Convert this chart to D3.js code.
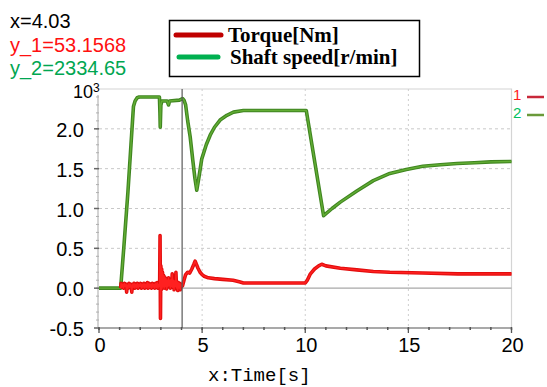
<!DOCTYPE html>
<html>
<head>
<meta charset="utf-8">
<script src="https://cdn.jsdelivr.net/npm/d3@7"></script>
<style>
  html, body { margin: 0; padding: 0; background: #fff; }
  svg { display: block; }
</style>
</head>
<body>
<svg id="chart" width="547" height="387"></svg>
<script>
// Cursor readout
const cursorT = 4.03;
const cursorTorque = "53.1568";
const cursorSpeed = "2334.65";

// Axis ticks (values shown in units of 10^3)
const xTicks = [0, 5, 10, 15, 20];
const yTicks = [-0.5, 0.0, 0.5, 1.0, 1.5, 2.0];
const yTickLabels = ["-0.5", "0.0", "0.5", "1.0", "1.5", "2.0"];

// Series names
const seriesNames = ["Torque[Nm]", "Shaft speed[r/min]"];

// Shaft speed [10^3 r/min] vs time [s]
const speedT = [0, 1.05, 1.2, 1.4, 1.55, 1.67, 1.75, 1.85, 1.95, 2.93, 2.955, 2.97, 3.0, 3.05, 3.3, 3.37, 3.42, 3.9, 4.05, 4.12, 4.2, 4.3, 4.42, 4.55, 4.65, 4.74, 4.85, 4.98, 5.2, 5.39, 5.6, 5.87, 6.2, 6.52, 7.0, 10.05, 10.89, 11.3, 11.7, 12.5, 13.3, 14.1, 14.9, 15.7, 16.55, 17.36, 18.2, 19.0, 20.0];
const speedV = [0, 0, 0.5, 1.2, 1.8, 2.28, 2.35, 2.39, 2.40, 2.40, 2.2, 2.02, 2.3, 2.35, 2.35, 2.3, 2.35, 2.36, 2.38, 2.36, 2.3, 2.1, 1.9, 1.6, 1.38, 1.23, 1.4, 1.62, 1.8, 1.92, 2.02, 2.11, 2.17, 2.21, 2.23, 2.23, 0.91, 1.0, 1.08, 1.22, 1.35, 1.44, 1.49, 1.53, 1.55, 1.565, 1.575, 1.585, 1.59];

// Torque (same axis) vs time [s]
const torqueT = [1.05, 1.07, 1.11, 1.15, 1.19, 1.23, 1.27, 1.31, 1.34, 1.37, 1.41, 1.45, 1.49, 1.53, 1.57, 1.59, 1.62, 1.66, 1.70, 1.74, 1.78, 1.82, 1.86, 1.90, 1.94, 1.98, 2.02, 2.06, 2.10, 2.14, 2.18, 2.22, 2.26, 2.30, 2.34, 2.38, 2.42, 2.46, 2.50, 2.54, 2.58, 2.62, 2.66, 2.70, 2.74, 2.78, 2.82, 2.86, 2.90, 2.94,
  2.96, 2.98, 3.00, 3.02, 3.04, 3.06, 3.08, 3.10, 3.13, 3.16, 3.19, 3.22, 3.25, 3.28, 3.31, 3.34, 3.37, 3.40, 3.43, 3.46, 3.49, 3.52, 3.55, 3.58, 3.61, 3.64, 3.67, 3.70, 3.73, 3.76, 3.79, 3.82, 3.85, 3.88, 3.91, 3.94, 3.97, 4.00, 4.05,
  4.12, 4.2, 4.3, 4.4, 4.5, 4.6, 4.66, 4.72, 4.8, 4.9, 5.0, 5.1, 5.3, 5.6, 6.0, 6.5, 6.8, 7.0, 8.0, 10.0, 10.1, 10.25, 10.45, 10.65, 10.8, 11.0, 11.7, 12.5, 13.3, 14.1, 15.7, 17.4, 20.0];
const torqueV = [0.0, 0.06, 0.01, 0.05, 0.0, 0.06, 0.02, 0.05, -0.05, 0.04, 0.0, 0.06, 0.01, 0.05, 0.0, -0.05, 0.05, 0.01, 0.06, 0.0, 0.05, 0.01, 0.06, 0.0, 0.05, 0.02, 0.06, 0.0, 0.05, 0.01, 0.06, 0.0, 0.05, 0.01, 0.07, 0.0, 0.06, 0.01, 0.05, 0.0, 0.06, 0.01, 0.05, 0.0, 0.06, 0.01, 0.07, 0.0, 0.05, 0.02,
  0.66, -0.38, 0.28, -0.02, 0.24, 0.0, 0.2, 0.02, 0.16, 0.0, 0.14, 0.02, 0.12, -0.01, 0.1, 0.02, 0.13, 0.03, 0.1, 0.0, 0.11, 0.02, 0.18, 0.01, 0.1, -0.02, 0.09, 0.02, 0.2, 0.0, 0.08, -0.03, 0.07, 0.0, 0.06, -0.02, 0.05, 0.02, 0.03,
  0.1, 0.17, 0.2, 0.19, 0.24, 0.3, 0.34, 0.3, 0.25, 0.2, 0.17, 0.15, 0.13, 0.12, 0.11, 0.1, 0.08, 0.065, 0.065, 0.065, 0.1, 0.18, 0.24, 0.28, 0.3, 0.28, 0.25, 0.23, 0.21, 0.2, 0.19, 0.18, 0.18];

const svg = d3.select("#chart");
const plot = { left: 99, right: 511.5, top: 89, bottom: 328 };

const x = d3.scaleLinear().domain([0, 20]).range([plot.left, plot.right]);
const y = d3.scaleLinear().domain([-0.5, 2.5]).range([plot.bottom, plot.top]);

const sans = "'Liberation Sans', Arial, sans-serif";

// Plot frame (top/right)
svg.append("path")
  .attr("d", `M${plot.left},${plot.top}H${plot.right}V${plot.bottom}`)
  .attr("fill", "none").attr("stroke", "#d4d4d4").attr("stroke-width", 1.2);

// Horizontal grid
svg.append("g").selectAll("line")
  .data(yTicks.filter(v => v > 0))
  .join("line")
  .attr("x1", plot.left).attr("x2", plot.right)
  .attr("y1", d => y(d)).attr("y2", d => y(d))
  .attr("stroke", "#c8c8c8").attr("stroke-width", 1)
  .attr("stroke-dasharray", "3,3");

// Zero line
svg.append("line")
  .attr("x1", plot.left).attr("x2", plot.right)
  .attr("y1", y(0)).attr("y2", y(0))
  .attr("stroke", "#a8a8a8").attr("stroke-width", 1.2);

// Vertical grid
svg.append("g").selectAll("line")
  .data(xTicks.filter(v => v > 0 && v < 20))
  .join("line")
  .attr("x1", d => x(d)).attr("x2", d => x(d))
  .attr("y1", plot.top).attr("y2", plot.bottom)
  .attr("stroke", "#cfcfcf").attr("stroke-width", 1)
  .attr("stroke-dasharray", "2,3");

// Left axis line with minor ticks
svg.append("line")
  .attr("x1", plot.left - 1).attr("x2", plot.left - 1)
  .attr("y1", plot.top + 6).attr("y2", plot.bottom)
  .attr("stroke", "#c4c4c4").attr("stroke-width", 1.5);
svg.append("g").selectAll("line")
  .data(d3.range(-5, 25).map(i => i / 10))
  .join("line")
  .attr("x1", plot.left - 3).attr("x2", plot.left)
  .attr("y1", d => y(d)).attr("y2", d => y(d))
  .attr("stroke", "#b0b0b0").attr("stroke-width", 1);
svg.append("g").selectAll("line")
  .data(yTicks)
  .join("line")
  .attr("x1", plot.left - 5).attr("x2", plot.left)
  .attr("y1", d => y(d)).attr("y2", d => y(d))
  .attr("stroke", "#666").attr("stroke-width", 1.5);

// Bottom axis with ticks
svg.append("line")
  .attr("x1", plot.left - 4).attr("x2", plot.right)
  .attr("y1", plot.bottom).attr("y2", plot.bottom)
  .attr("stroke", "#8c8c8c").attr("stroke-width", 1.5);
svg.append("g").selectAll("line")
  .data(d3.range(0, 21))
  .join("line")
  .attr("x1", d => x(d)).attr("x2", d => x(d))
  .attr("y1", plot.bottom - 1).attr("y2", plot.bottom + 2)
  .attr("stroke", "#555").attr("stroke-width", 1.5);
svg.append("g").selectAll("line")
  .data(xTicks)
  .join("line")
  .attr("x1", d => x(d)).attr("x2", d => x(d))
  .attr("y1", plot.bottom).attr("y2", plot.bottom + 5)
  .attr("stroke", "#555").attr("stroke-width", 1.3);

// Tick labels
svg.append("g").selectAll("text")
  .data(yTicks)
  .join("text")
  .attr("x", 84).attr("y", d => y(d) + 8)
  .attr("text-anchor", "end")
  .attr("font-family", sans).attr("font-size", 20).attr("fill", "#000")
  .text((d, i) => yTickLabels[i]);

svg.append("g").selectAll("text")
  .data(xTicks)
  .join("text")
  .attr("x", d => x(d) + 1).attr("y", 352)
  .attr("text-anchor", "middle")
  .attr("font-family", sans).attr("font-size", 20).attr("fill", "#000")
  .text(d => d);

// Scale exponent
const expo = svg.append("text").attr("x", 73).attr("y", 98)
  .attr("font-family", sans).attr("font-size", 18).attr("fill", "#000");
expo.append("tspan").text("10");
expo.append("tspan").attr("font-size", 12).attr("dy", -6).text("3");

// X axis title
svg.append("text")
  .attr("x", 208).attr("y", 381)
  .attr("font-family", "'Liberation Mono', 'DejaVu Sans Mono', monospace")
  .attr("font-size", 19).attr("fill", "#000")
  .text("x:Time[s]");

// Series lines
const lineGen = d3.line().x(d => x(d[0])).y(d => y(d[1]));
const speedData = speedT.map((t, i) => [t, speedV[i]]);
const torqueData = torqueT.map((t, i) => [t, torqueV[i]]);

svg.append("path").datum(speedData).attr("d", lineGen)
  .attr("fill", "none").attr("stroke", "#3f8520").attr("stroke-width", 3.6)
  .attr("stroke-linejoin", "round");
svg.append("path").datum(speedData).attr("d", lineGen)
  .attr("fill", "none").attr("stroke", "#62ad34").attr("stroke-width", 1.4)
  .attr("stroke-linejoin", "round");

svg.append("path").datum(torqueData).attr("d", lineGen)
  .attr("fill", "none").attr("stroke", "#e20d0d").attr("stroke-width", 3.6)
  .attr("stroke-linejoin", "round");
svg.append("path").datum(torqueData).attr("d", lineGen)
  .attr("fill", "none").attr("stroke", "#ff2020").attr("stroke-width", 1.4)
  .attr("stroke-linejoin", "round");

// Cursor line
svg.append("line")
  .attr("x1", x(cursorT)).attr("x2", x(cursorT))
  .attr("y1", plot.top).attr("y2", plot.bottom)
  .attr("stroke", "#5a5a5a").attr("stroke-width", 1.2);

// Cursor readout text
const readout = [
  { text: "x=" + cursorT.toFixed(2), color: "#000", y: 28 },
  { text: "y_1=" + cursorTorque, color: "#ff1010", y: 52 },
  { text: "y_2=" + cursorSpeed, color: "#00a651", y: 75 }
];
svg.append("g").selectAll("text")
  .data(readout)
  .join("text")
  .attr("x", 10).attr("y", d => d.y)
  .attr("font-family", sans).attr("font-size", 20)
  .attr("fill", d => d.color)
  .text(d => d.text);

// Legend
const legend = svg.append("g");
legend.append("rect")
  .attr("x", 169.5).attr("y", 20.5).attr("width", 250).attr("height", 56)
  .attr("fill", "#fff").attr("stroke", "#000").attr("stroke-width", 1.5);
const legendColors = ["#c00000", "#00b050"];
seriesNames.forEach((name, i) => {
  const ly = 35 + i * 22;
  legend.append("line")
    .attr("x1", i === 0 ? 176 : 179).attr("x2", i === 0 ? 221 : 218)
    .attr("y1", ly).attr("y2", ly)
    .attr("stroke", legendColors[i]).attr("stroke-width", 5)
    .attr("stroke-linecap", "round");
  legend.append("text")
    .attr("x", 228 + i * 2).attr("y", ly + 7)
    .attr("font-family", "'Liberation Serif', 'Times New Roman', serif")
    .attr("font-weight", "bold").attr("font-size", 21).attr("fill", "#000")
    .text(name);
});

// Trace index markers at right edge
const markers = [
  { label: "1", color: "#ff1a1a", line: "#c8283a", y: 100 },
  { label: "2", color: "#00c060", line: "#6a9a3a", y: 118 }
];
markers.forEach(m => {
  svg.append("text").attr("x", 513).attr("y", m.y)
    .attr("font-family", sans).attr("font-size", 15).attr("fill", m.color)
    .text(m.label);
  svg.append("line")
    .attr("x1", 527).attr("x2", 544)
    .attr("y1", m.y - 3).attr("y2", m.y - 3)
    .attr("stroke", m.line).attr("stroke-width", 2.5);
});
</script>
</body>
</html>
